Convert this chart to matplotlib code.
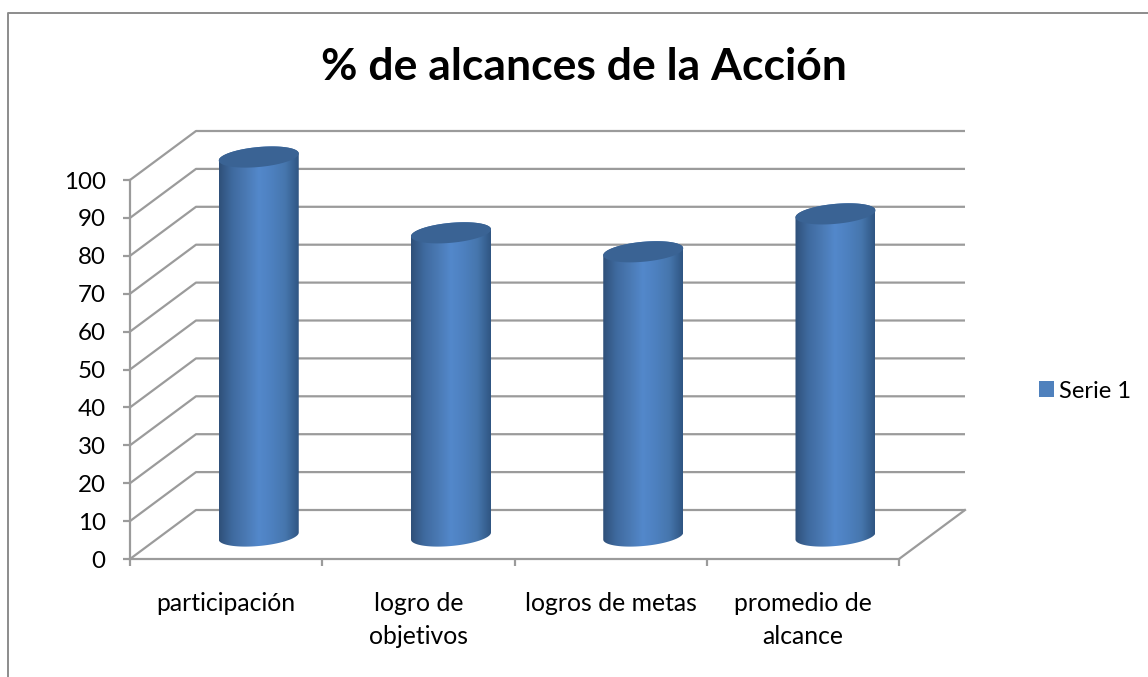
import numpy as np
import matplotlib
matplotlib.use("Agg")
import matplotlib.pyplot as plt
from matplotlib.colors import LinearSegmentedColormap
from matplotlib.lines import Line2D
from matplotlib.patches import Patch, PathPatch, Polygon
from matplotlib.path import Path

categories = ["participación", "logro de\nobjetivos", "logros de metas", "promedio de\nalcance"]
values = [100, 80, 75, 85]
series_name = "Serie 1"
title = "% de alcances de la Acción"
y_ticks = list(range(0, 101, 10))

W, H = 1148, 677
plt.rcParams["font.family"] = ["Lato", "DejaVu Sans"]
fig = plt.figure(figsize=(W / 100, H / 100), dpi=100, facecolor="white")
L, R, B, T = 130, 899, 559, 180
ax = fig.add_axes([L / W, 1 - B / H, (R - L) / W, (B - T) / H])
ax.patch.set_visible(False)

GRID = "#9b9b9b"
LW = 1.6
px_x = (R - L) / len(categories)   # px per category
px_y = (B - T) / 100               # px per value unit
depth_x = 66 / px_x
depth_y = 49 / px_y

# walls
for v in y_ticks:
    ax.plot([0, depth_x, len(categories) + depth_x], [v, v + depth_y, v + depth_y],
            color=GRID, lw=LW, clip_on=False, zorder=1, solid_capstyle="butt")
ax.plot([len(categories), len(categories) + depth_x], [0, depth_y],
        color=GRID, lw=LW, clip_on=False, zorder=1)

cmap = LinearSegmentedColormap.from_list(
    "cyl", ["#2f5079", "#3f6a9f", "#4a79b3", "#5388cb", "#4d80bf", "#4676ad", "#2f5582"])
grad = np.linspace(0, 1, 256).reshape(1, -1)

half_w = 40 / px_x
tilt = 3.5 / px_y
minor = 10 / px_y
t = np.linspace(0, 2 * np.pi, 121)

for i, v in enumerate(values):
    cx = i + 0.5 + depth_x / 2 - 0.002
    cy0 = depth_y / 2 - 0.4
    ex = half_w * np.cos(t)
    ey = tilt * np.cos(t) + minor * np.sin(t)
    # silhouette: lower half of base ellipse + upper half of top ellipse
    low = (t >= np.pi) & (t <= 2 * np.pi)
    up = t <= np.pi
    xs = np.r_[cx + ex[low], cx + ex[up]]
    ys = np.r_[cy0 + ey[low], v + cy0 + ey[up]]
    body = Path(np.c_[xs, ys], closed=False)
    im = ax.imshow(grad, cmap=cmap, extent=[cx - half_w, cx + half_w, cy0 - 2 * minor, v + cy0 + 2 * minor],
                   aspect="auto", zorder=3, interpolation="bilinear")
    patch = PathPatch(body, transform=ax.transData, fc="none", ec="none", clip_on=False)
    ax.add_patch(patch)
    im.set_clip_box(fig.bbox)
    im.set_clip_path(patch)
    ax.add_patch(Polygon(np.c_[cx + ex, v + cy0 + ey], closed=True, fc="#3a6394", ec="none",
                         zorder=4, clip_on=False))

ax.set_xlim(0, len(categories))
ax.set_ylim(0, 100)
ax.set_aspect("auto")

for side in ("top", "right"):
    ax.spines[side].set_visible(False)
for side in ("left", "bottom"):
    ax.spines[side].set_color(GRID)
    ax.spines[side].set_linewidth(LW)

ax.set_yticks(y_ticks)
ax.tick_params(axis="y", length=5, width=LW, color=GRID, labelsize=17.4, pad=12.5, labelcolor="black")
ax.set_xticks(range(len(categories) + 1))
ax.set_xticklabels([])
ax.tick_params(axis="x", which="major", length=5, width=LW, color=GRID)
ax.set_xticks([i + 0.5 for i in range(len(categories))], minor=True)
ax.set_xticklabels(categories, minor=True, fontsize=17.8, linespacing=1.5, va="top", color="black")
ax.tick_params(axis="x", which="minor", length=0, pad=24)

fig.text(584 / W, 1 - 67 / H, title, ha="center", va="center", fontsize=32, fontweight="bold", color="black")

fig.add_artist(Line2D([7.5 / W, 7.5 / W, 1], [0, 1 - 12.5 / H, 1 - 12.5 / H], color="#8c8c8c", lw=1.4))

fig.legend(handles=[Patch(facecolor="#4f81bd", edgecolor="none", label=series_name)],
           loc="center left", bbox_to_anchor=(1036.5 / W, 1 - 391 / H), frameon=False,
           fontsize=17, handlelength=0.66, handleheight=0.66, handletextpad=0.2,
           borderpad=0.1, borderaxespad=0)

fig.savefig("out.png", dpi=100)
